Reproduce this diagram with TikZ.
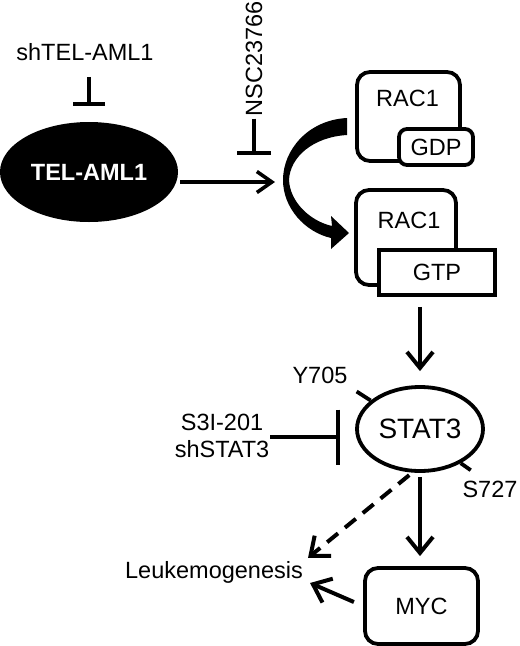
\documentclass[tikz,border=0pt]{standalone}
\usepackage{fontspec}
\setmainfont{Liberation Sans}
\usepackage{tikz}
\usetikzlibrary{calc}
\usetikzlibrary{positioning}
\usetikzlibrary{shapes}
\usetikzlibrary{arrows.meta}

\begin{document}
\begin{tikzpicture}[x=1pt, y=-1pt, inner sep=0pt,
		font=\fontsize{23.5}{27}\selectfont,
		prot/.style={draw, line width=3.8pt, rounded corners=13pt, fill=white},
		act/.style={line width=4pt, -{Straight Barb[length=16pt,width=26pt]}},
		inhib/.style={line width=4pt, -{Bar[width=#1]}}]
	\useasboundingbox (0,0) rectangle (520,646);

	\node[ellipse, fill=black, text=white, minimum width=178pt, minimum height=100pt,
		font=\bfseries\fontsize{23.5}{27}\selectfont] (tel) at (89,172) {TEL-AML1};
	\node (shtel) at (85,52) {shTEL-AML1};
	\coordinate (shtelbar) at (89,106);
	\draw[inhib=32pt, shorten <=16pt] (shtel.south -| shtelbar) -- (shtelbar);

	\node[rotate=90] (nsc) at (254,59) {NSC23766};
	\coordinate (nscbar) at (254,155);
	\draw[inhib=34pt, shorten <=2pt] (nsc.west) -- (nscbar);

	\coordinate (gef) at (275,182);
	\draw[line width=3.6pt, -{Straight Barb[length=15pt,width=21pt]}, shorten <=2pt] (tel.east |- gef) -- (gef);

	\node[prot, minimum width=103pt, minimum height=89pt] (rac1gdp) at (408.5,116.5) {};
	\node (rac1a) at (407.5,98) {RAC1};
	\node[prot, rounded corners=8pt, minimum width=74pt, minimum height=36pt] (gdp) at (436,147) {GDP};

	\node[prot, minimum width=100pt, minimum height=95pt] (rac1gtp) at (406,237.5) {};
	\node (rac1b) at (409,220) {RAC1};
	\node[prot, sharp corners, minimum width=116pt, minimum height=45pt] (gtp) at (437,272.5) {GTP};

	\fill (347,118) .. controls (308,120) and (283,150) .. (283,180)
		.. controls (283,208) and (305,232) .. (331,238) -- (331,249) -- (349,233) -- (331,216) -- (332,226)
		.. controls (310,221) and (290,202) .. (289,180)
		.. controls (290,157) and (313,137) .. (347,135) -- cycle;

	\node[draw, ellipse, line width=3.8pt, minimum width=126pt, minimum height=84pt,
		font=\fontsize{28}{32}\selectfont] (stat3) at (420,429) {STAT3};
	\draw[act, shorten <=10pt, shorten >=14pt] (gtp.south -| stat3.north) -- (stat3.north);

	\node (y705) at (320,375) {Y705};
	\draw[line width=3.8pt] (stat3.150) -- ++(-14,-9);
	\node (s727) at (490,489) {S727};
	\draw[line width=3.8pt] (stat3.-40) -- ++(10,7);

	\node[align=center] (s3i) at (222,436) {S3I-201\\shSTAT3};
	\coordinate (s3ibar) at (340,437);
	\draw[inhib=55pt, shorten <=1pt] (s3i.east |- s3ibar) -- (s3ibar);

	\node[prot, minimum width=113pt, minimum height=76pt] (myc) at (421.5,606) {MYC};
	\draw[act, shorten <=4pt, shorten >=10pt] (stat3.south) -- (stat3.south |- myc.north);

	\node (leuk) at (214,572) {Leukemogenesis};
	\draw[act, dash pattern=on 14pt off 9pt, shorten <=4pt] (stat3.260) -- ([xshift=5pt,yshift=3pt]leuk.north east);
	\draw[act, shorten <=10pt] (myc.west) -- ([xshift=7pt,yshift=-11pt]leuk.east);
\end{tikzpicture}
\end{document}
